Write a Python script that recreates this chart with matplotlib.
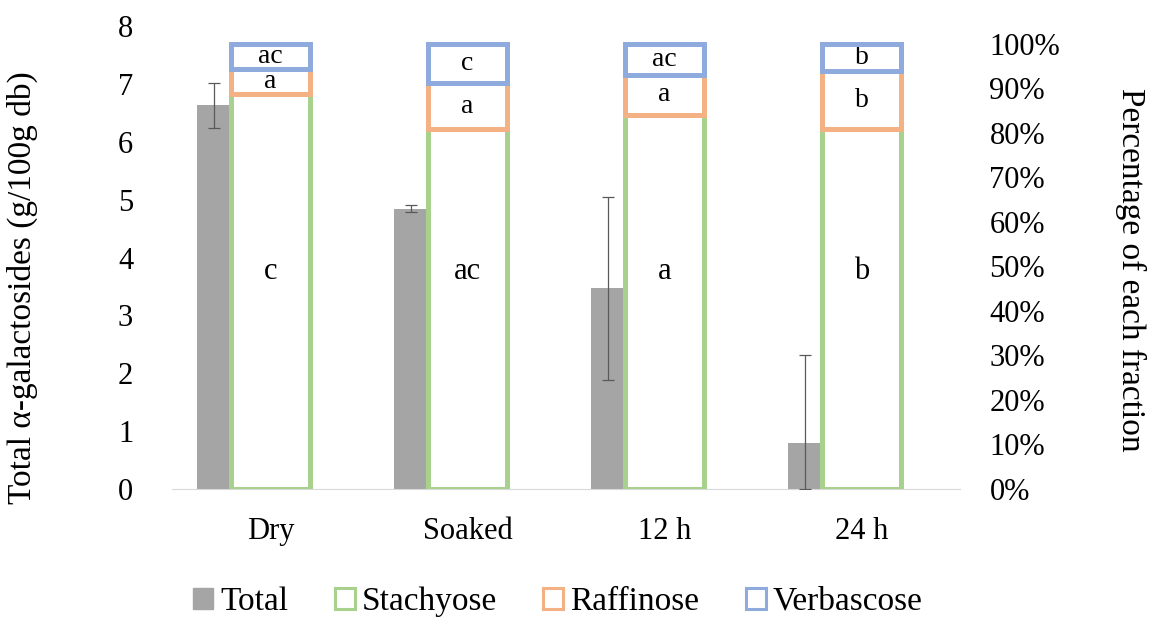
import numpy as np
import matplotlib.pyplot as plt
from matplotlib.patches import Patch

plt.rcParams['font.family'] = ['Liberation Serif', 'DejaVu Serif']

categories = ["Dry", "Soaked", "12 h", "24 h"]
total = [6.63, 4.84, 3.47, 0.79]
total_err = [0.39, 0.06, 1.58, 1.52]

# percentage of each fraction (right axis)
stachyose = [88.7, 80.8, 84.1, 80.8]
raffinose = [5.6, 10.3, 8.9, 13.1]
verbascose = [5.7, 8.9, 7.0, 6.1]

lab_sta = ["c", "ac", "a", "b"]
lab_raf = ["a", "a", "a", "b"]
lab_ver = ["ac", "c", "ac", "b"]

c_total = "#A5A5A5"
c_sta = "#A9D18E"
c_raf = "#F4B183"
c_ver = "#8FAADC"

fig = plt.figure(figsize=(11.5, 6.19), dpi=100)
ax = fig.add_axes([0.1496, 0.210, 0.6854, 0.748])
ax2 = ax.twinx()

x = np.arange(len(categories))
w_box = 0.40
w_tot = 0.175

# gray total bars with error bars (clipped at 0)
lower = [min(e, t) for t, e in zip(total, total_err)]
ax.bar(x - w_box / 2 - w_tot / 2, total, w_tot, color=c_total, zorder=2)
ax.errorbar(x - w_box / 2 - w_tot / 2, total, yerr=[lower, total_err],
            fmt="none", ecolor="#595959", elinewidth=0.9, capsize=4, capthick=0.9, zorder=3)
ax.set_ylim(0, 8)
ax.set_xlim(-0.5, 3.5)

sta = np.array(stachyose) / 100
raf = np.array(raffinose) / 100
ver = np.array(verbascose) / 100
lw = 3.6
ax2.bar(x, sta, w_box, facecolor="none", edgecolor=c_sta, linewidth=lw, zorder=2)
ax2.bar(x, raf, w_box, bottom=sta, facecolor="none", edgecolor=c_raf, linewidth=lw, zorder=3)
ax2.bar(x, ver, w_box, bottom=sta + raf, facecolor="none", edgecolor=c_ver, linewidth=lw, zorder=4)
ax2.set_ylim(0, 1.04)

fs = 22
for i in range(len(categories)):
    ax2.text(x[i], 0.488, lab_sta[i], ha="center", va="center", fontsize=fs)
    ax2.text(x[i], sta[i] + raf[i] / 2, lab_raf[i], ha="center", va="center", fontsize=20)
    ax2.text(x[i], sta[i] + raf[i] + ver[i] / 2, lab_ver[i], ha="center", va="center", fontsize=20)

ax.set_xticks(x)
ax.set_xticklabels(categories, fontsize=fs)
ax.set_yticks(range(0, 9))
ax.tick_params(axis="y", length=0, labelsize=fs, pad=28)
ax.tick_params(axis="x", length=0, pad=20)
ax2.set_yticks(np.arange(0, 1.01, 0.1))
ax2.set_yticklabels(["{}%".format(int(round(v * 100))) for v in np.arange(0, 1.01, 0.1)])
ax2.tick_params(axis="y", length=0, labelsize=fs, pad=21)

for a in (ax, ax2):
    for s in ["top", "left", "right"]:
        a.spines[s].set_visible(False)
ax.spines["bottom"].set_color("#D9D9D9")
ax2.spines["bottom"].set_visible(False)

ax.set_ylabel("Total α-galactosides (g/100g db)", fontsize=24, va="center")
ax.yaxis.set_label_coords(-0.19, 0.436)
ax2.set_ylabel("Percentage of each fraction", fontsize=24, rotation=270, va="center")
ax2.yaxis.set_label_coords(1.216, 0.473)

handles = [Patch(facecolor=c_total, edgecolor=c_total),
           Patch(facecolor="white", edgecolor=c_sta, linewidth=2.2),
           Patch(facecolor="white", edgecolor=c_raf, linewidth=2.2),
           Patch(facecolor="white", edgecolor=c_ver, linewidth=2.2)]
fig.legend(handles, ["Total", "Stachyose", "Raffinose", "Verbascose"],
           loc="center", bbox_to_anchor=(0.485, 0.028), ncol=4, frameon=False,
           fontsize=24, handlelength=0.6, handleheight=0.6, handletextpad=0.2, columnspacing=1.4)

fig.savefig("out.png", dpi=100)
